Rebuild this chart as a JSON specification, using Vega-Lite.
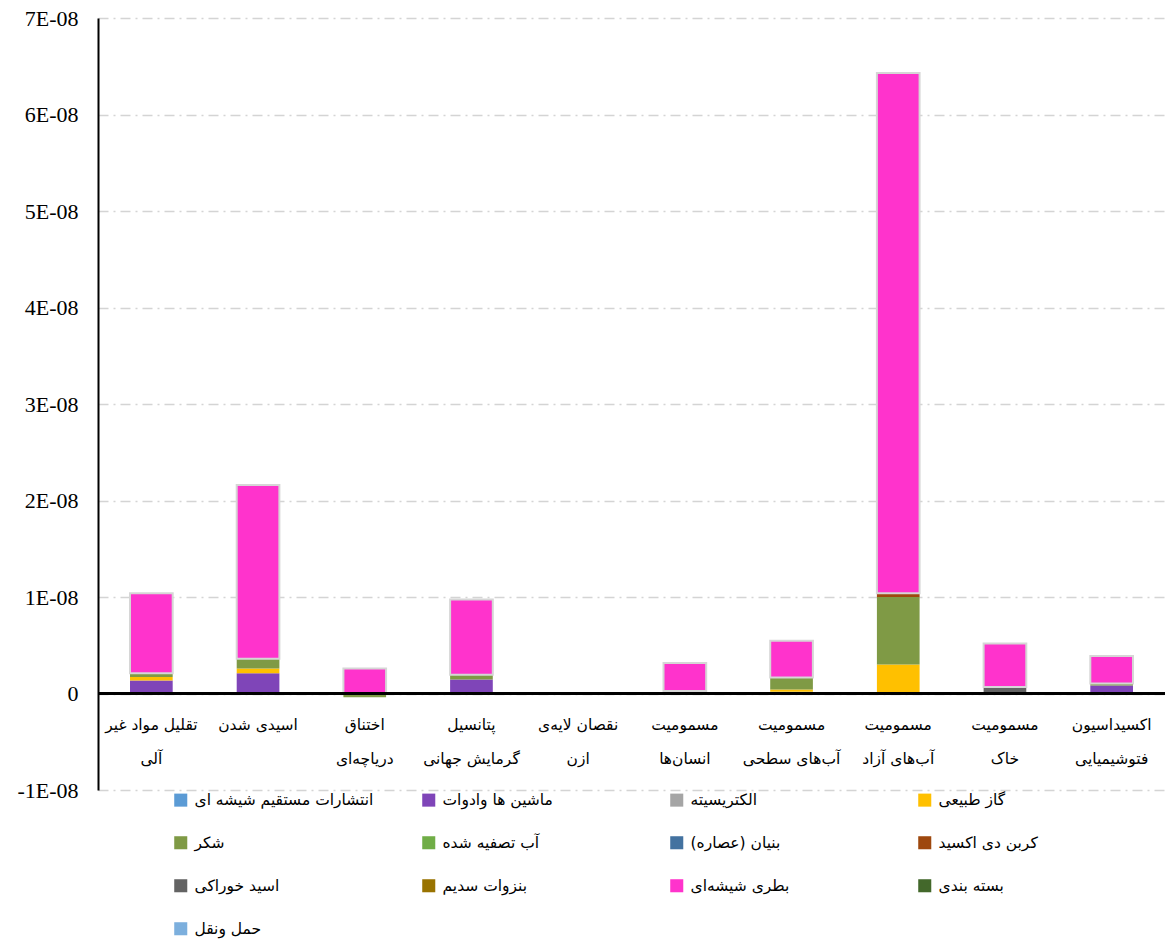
{
  "$schema": "https://vega.github.io/schema/vega-lite/v6.json",
  "width": 1067,
  "height": 772,
  "autosize": {"type": "none"},
  "padding": {"left": 98, "top": 18, "right": 0, "bottom": 151},
  "background": "white",
  "config": {"view": {"stroke": null}},
  "datasets": {
    "series": [
      {"name": "حمل ونقل", "no": 1},
      {"name": "انتشارات مستقیم شیشه ای", "no": 2},
      {"name": "ماشین ها وادوات", "no": 3},
      {"name": "بنزوات سدیم", "no": 4},
      {"name": "اسید خوراکی", "no": 5},
      {"name": "گاز طبیعی", "no": 6},
      {"name": "الکتریسیته", "no": 7},
      {"name": "آب تصفیه شده", "no": 8},
      {"name": "شکر", "no": 9},
      {"name": "بنیان (عصاره)", "no": 10},
      {"name": "کربن دی اکسید", "no": 11},
      {"name": "بسته بندی", "no": 12},
      {"name": "بطری شیشه\u200cای", "no": 13}
    ],
    "bars": [
      {"impact": "تقلیل مواد غیر\nآلی", "source": "ماشین ها وادوات", "value": 1.35e-9},
      {"impact": "تقلیل مواد غیر\nآلی", "source": "گاز طبیعی", "value": 3.5e-10},
      {"impact": "تقلیل مواد غیر\nآلی", "source": "شکر", "value": 4e-10},
      {"impact": "تقلیل مواد غیر\nآلی", "source": "بطری شیشه\u200cای", "value": 8.3e-9},
      {"impact": "اسیدی شدن", "source": "ماشین ها وادوات", "value": 2.1e-9},
      {"impact": "اسیدی شدن", "source": "گاز طبیعی", "value": 5e-10},
      {"impact": "اسیدی شدن", "source": "شکر", "value": 1.0e-9},
      {"impact": "اسیدی شدن", "source": "بطری شیشه\u200cای", "value": 1.80e-8},
      {"impact": "اختناق\nدریاچه\u200cای", "source": "بطری شیشه\u200cای", "value": 2.6e-9},
      {"impact": "اختناق\nدریاچه\u200cای", "source": "شکر", "value": -4e-10},
      {"impact": "پتانسیل\nگرمایش جهانی", "source": "ماشین ها وادوات", "value": 1.45e-9},
      {"impact": "پتانسیل\nگرمایش جهانی", "source": "شکر", "value": 5e-10},
      {"impact": "پتانسیل\nگرمایش جهانی", "source": "بطری شیشه\u200cای", "value": 7.8e-9},
      {"impact": "نقصان لایه\u200cی\nازن", "source": "شکر", "value": 1.5e-10},
      {"impact": "مسمومیت\nانسان\u200cها", "source": "شکر", "value": 2.5e-10},
      {"impact": "مسمومیت\nانسان\u200cها", "source": "بطری شیشه\u200cای", "value": 2.9e-9},
      {"impact": "مسمومیت\nآب\u200cهای سطحی", "source": "حمل ونقل", "value": 1.7e-10},
      {"impact": "مسمومیت\nآب\u200cهای سطحی", "source": "گاز طبیعی", "value": 2.5e-10},
      {"impact": "مسمومیت\nآب\u200cهای سطحی", "source": "شکر", "value": 1.25e-9},
      {"impact": "مسمومیت\nآب\u200cهای سطحی", "source": "بطری شیشه\u200cای", "value": 3.8e-9},
      {"impact": "مسمومیت\nآب\u200cهای آزاد", "source": "گاز طبیعی", "value": 3.0e-9},
      {"impact": "مسمومیت\nآب\u200cهای آزاد", "source": "شکر", "value": 7.0e-9},
      {"impact": "مسمومیت\nآب\u200cهای آزاد", "source": "کربن دی اکسید", "value": 4e-10},
      {"impact": "مسمومیت\nآب\u200cهای آزاد", "source": "بطری شیشه\u200cای", "value": 5.39e-8},
      {"impact": "مسمومیت\nخاک", "source": "بنزوات سدیم", "value": 1.3e-10},
      {"impact": "مسمومیت\nخاک", "source": "اسید خوراکی", "value": 5.5e-10},
      {"impact": "مسمومیت\nخاک", "source": "بطری شیشه\u200cای", "value": 4.5e-9},
      {"impact": "اکسیداسیون\nفتوشیمیایی", "source": "ماشین ها وادوات", "value": 8.3e-10},
      {"impact": "اکسیداسیون\nفتوشیمیایی", "source": "شکر", "value": 2e-10},
      {"impact": "اکسیداسیون\nفتوشیمیایی", "source": "بطری شیشه\u200cای", "value": 2.86e-9}
    ]
  },
  "data": {"name": "bars"},
  "transform": [
    {"lookup": "source", "from": {"data": {"name": "series"}, "key": "name", "fields": ["no"]}}
  ],
  "layer": [
    {
      "mark": {"type": "bar"},
      "encoding": {
        "x": {
          "field": "impact",
          "type": "nominal",
          "sort": ["تقلیل مواد غیر\nآلی", "اسیدی شدن", "اختناق\nدریاچه\u200cای", "پتانسیل\nگرمایش جهانی", "نقصان لایه\u200cی\nازن", "مسمومیت\nانسان\u200cها", "مسمومیت\nآب\u200cهای سطحی", "مسمومیت\nآب\u200cهای آزاد", "مسمومیت\nخاک", "اکسیداسیون\nفتوشیمیایی"],
          "scale": {"paddingInner": 0.6, "paddingOuter": 0.3},
          "axis": {
            "title": null,
            "orient": "bottom",
            "offset": -97,
            "domain": false,
            "ticks": false,
            "labelAngle": 0,
            "labelFont": "DejaVu Sans",
            "labelFontSize": 15.5,
            "labelColor": "black",
            "labelLineHeight": 34,
            "labelPadding": 24,
            "labelLimit": 300,
            "labelOverlap": false,
            "labelExpr": "split(datum.value, '\\n')"
          }
        },
        "y": {
          "field": "value",
          "type": "quantitative",
          "stack": "zero",
          "scale": {"domain": [-1e-8, 7e-8], "nice": false, "zero": false},
          "axis": {
            "title": null,
            "values": [-1e-8, 0, 1e-8, 2e-8, 3e-8, 4e-8, 5e-8, 6e-8, 7e-8],
            "labelExpr": "datum.value == 0 ? '0' : (datum.value < 0 ? '-' : '') + replace(format(abs(datum.value), '.0e'), 'e-', 'E-0')",
            "labelFont": "Liberation Serif",
            "labelFontSize": 22,
            "labelColor": "black",
            "labelPadding": 20,
            "ticks": false,
            "domainColor": "black",
            "domainWidth": 2,
            "grid": true,
            "gridColor": "#d4d4d4",
            "gridWidth": 1.5,
            "gridDash": [10, 5, 2, 5]
          }
        },
        "color": {
          "field": "source",
          "type": "nominal",
          "scale": {
            "domain": ["انتشارات مستقیم شیشه ای", "ماشین ها وادوات", "الکتریسیته", "گاز طبیعی", "شکر", "آب تصفیه شده", "بنیان (عصاره)", "کربن دی اکسید", "اسید خوراکی", "بنزوات سدیم", "بطری شیشه\u200cای", "بسته بندی", "حمل ونقل"],
            "range": ["#5b9bd5", "#7f45b8", "#a5a5a5", "#ffc000", "#7f9a45", "#70ad47", "#4372a0", "#9e480e", "#636363", "#997300", "#ff33cc", "#43682b", "#7cafdd"]
          },
          "legend": {
            "title": null,
            "orient": "none",
            "legendX": 75,
            "legendY": 774,
            "direction": "horizontal",
            "columns": 4,
            "gridAlign": "all",
            "columnPadding": 47,
            "rowPadding": 26,
            "padding": 0,
            "symbolType": "square",
            "symbolSize": 170,
            "symbolStrokeWidth": 0,
            "labelFont": "DejaVu Sans",
            "labelFontSize": 15.5,
            "labelColor": "black",
            "labelOffset": 6,
            "labelLimit": 300
          }
        },
        "order": {"field": "no", "type": "quantitative", "sort": "ascending"},
        "stroke": {
          "condition": {"test": "datum.source == 'بطری شیشه\u200cای'", "value": "#d6d6d6"},
          "value": "transparent"
        },
        "strokeWidth": {"value": 2}
      }
    },
    {
      "mark": {"type": "rule", "color": "black", "strokeWidth": 2},
      "encoding": {"y": {"datum": 0}}
    }
  ]
}
